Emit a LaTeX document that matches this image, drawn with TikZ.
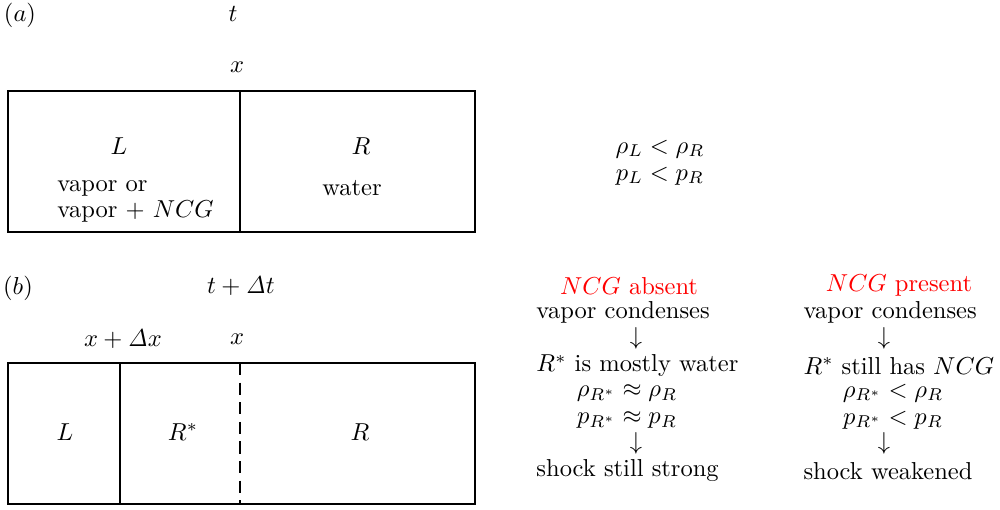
\documentclass[tikz,border=0pt]{standalone}
\begin{document}
\begin{tikzpicture}[x=0.01435cm,y=-0.01435cm,
  boxline/.style={line width=0.6pt},
  lbl/.style={inner sep=0pt},
  arr/.style={inner sep=0pt,text height=4pt,text depth=0pt},
  hl/.style={text=red}]
\useasboundingbox (0,0) rectangle (1000,510);
% (a)
\node[lbl] (la) at (20,15) {$(a)$};
\node[lbl] (ta) at (233,14) {$t$};
\node[lbl] (xa) at (237,67) {$x$};
\draw[boxline] (8,91) rectangle (475,232);
\coordinate (da1) at (240,91);
\coordinate (da2) at (240,232);
\draw[boxline] (da1) -- (da2);
\node[lbl] (La) at (119,146) {$L$};
\node[lbl] (Ra) at (361,146) {$R$};
\node[lbl,anchor=west] (va1) at (57,188) {vapor or};
\node[lbl,anchor=west] (va2) at (57,212) {vapor $+$ $NCG$};
\node[lbl] (wa) at (352,188) {water};
\node[lbl] (rho) at (660,149) {$\rho_L < \rho_R$};
\node[lbl] (pa) at (660,176) {$p_L < p_R$};
% (b)
\node[lbl] (lb) at (18,288) {$(b)$};
\node[lbl] (tb) at (241,286) {$t + \mathit{\Delta} t$};
\node[lbl] (xdx) at (123,339) {$x + \mathit{\Delta} x$};
\node[lbl] (xb) at (237,339) {$x$};
\draw[boxline] (8,363) rectangle (475,504);
\coordinate (db1) at (120,363);
\coordinate (db2) at (120,504);
\draw[boxline] (db1) -- (db2);
\coordinate (dc1) at (240,363);
\coordinate (dc2) at (240,504);
\draw[boxline,dash pattern=on 5pt off 3pt] (dc1) -- (dc2);
\node[lbl] (Lb) at (65,432) {$L$};
\node[lbl] (Rs) at (183,432) {$R^*$};
\node[lbl] (Rb) at (360,432) {$R$};
% column 1
\node[lbl,hl] (h1) at (629,286) {$NCG$ absent};
\node[lbl,anchor=west] (c1a) at (536,312) {vapor condenses};
\node[arr] (c1b) at (636,340) {$\downarrow$};
\node[lbl,anchor=west] (c1c) at (536,366) {$R^*$ is mostly water};
\node[lbl] (c1d) at (627,393) {$\rho_{R^*} \approx \rho_R$};
\node[lbl] (c1e) at (627,420) {$p_{R^*} \approx p_R$};
\node[arr] (c1f) at (636,445) {$\downarrow$};
\node[lbl,anchor=west] (c1g) at (536,471) {shock still strong};
% column 2
\node[lbl,hl] (h2) at (899,286) {$NCG$ present};
\node[lbl,anchor=west] (c2a) at (803,312) {vapor condenses};
\node[arr] (c2b) at (884,340) {$\downarrow$};
\node[lbl,anchor=west] (c2c) at (803,366) {$R^*$ still has $NCG$};
\node[lbl] (c2d) at (893,393) {$\rho_{R^*} < \rho_R$};
\node[lbl] (c2e) at (893,420) {$p_{R^*} < p_R$};
\node[arr] (c2f) at (884,445) {$\downarrow$};
\node[lbl,anchor=west] (c2g) at (803,471) {shock weakened};
\end{tikzpicture}
\end{document}
